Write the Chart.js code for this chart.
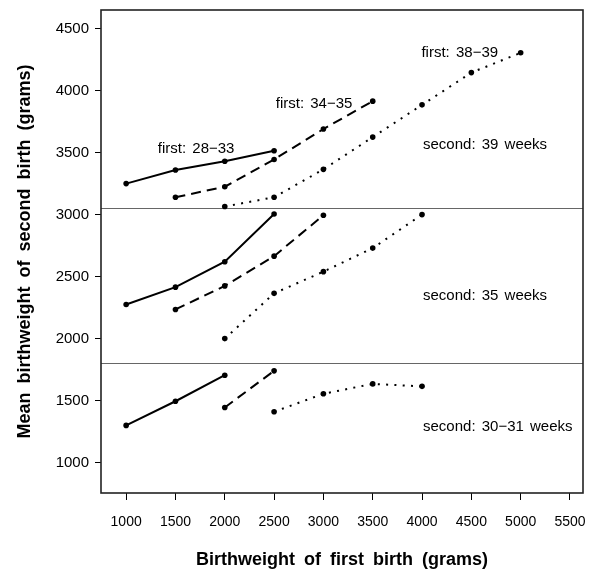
<!DOCTYPE html>
<html>
<head>
<meta charset="utf-8">
<script src="https://cdn.jsdelivr.net/npm/chart.js@4.4.1/dist/chart.umd.min.js"></script>
<style>
  html, body { margin: 0; padding: 0; background: #fff; }
  #wrap { width: 593px; height: 571px; position: relative; }
</style>
</head>
<body>
<div id="wrap"><canvas id="myChart"></canvas></div>
<script>
// axis ticks
const xTicks = [1000, 1500, 2000, 2500, 3000, 3500, 4000, 4500, 5000, 5500];
const yTicks = [1000, 1500, 2000, 2500, 3000, 3500, 4000, 4500];

// second birth at 39 weeks: birthweight of first birth (x) and mean of second (y)
const x39_2833 = [1000, 1500, 2000, 2500];
const y39_2833 = [3250, 3360, 3430, 3515];
const x39_3435 = [1500, 2000, 2500, 3000, 3500];
const y39_3435 = [3140, 3225, 3445, 3690, 3915];
const x39_3839 = [2000, 2500, 3000, 3500, 4000, 4500, 5000];
const y39_3839 = [3065, 3140, 3365, 3625, 3885, 4145, 4305];

// second birth at 35 weeks
const x35_2833 = [1000, 1500, 2000, 2500];
const y35_2833 = [2275, 2415, 2620, 3005];
const x35_3435 = [1500, 2000, 2500, 3000];
const y35_3435 = [2235, 2425, 2665, 2995];
const x35_3839 = [2000, 2500, 3000, 3500, 4000];
const y35_3839 = [2000, 2365, 2540, 2730, 3000];

// second birth at 30-31 weeks
const x30_2833 = [1000, 1500, 2000];
const y30_2833 = [1300, 1495, 1705];
const x30_3435 = [2000, 2500];
const y30_3435 = [1445, 1740];
const x30_3839 = [2500, 3000, 3500, 4000];
const y30_3839 = [1410, 1555, 1635, 1615];

// panel dividers (y values)
const panelBreaks = [3050, 1800];

// text labels
const groupNames = ['first: 28\u221233', 'first: 34\u221235', 'first: 38\u221239'];
const panelNames = ['second: 39 weeks', 'second: 35 weeks', 'second: 30\u221231 weeks'];
const groupAt = [[1321, 3533], [2517, 3897], [3994, 4307]];
const panelAt = [[4010, 3563], [4010, 2346], [4010, 1285]];

const FONT = '"Liberation Sans", Arial, Helvetica, sans-serif';
const solid = [], dashed = [10, 6], dotted = [2, 6.3];

function series(xs, ys, dash) {
    return {
        data: xs.map((x, i) => ({ x: x, y: ys[i] })),
        showLine: true,
        borderColor: '#000',
        backgroundColor: '#000',
        borderWidth: 2,
        borderDash: dash,
        pointRadius: 2.8,
        pointHoverRadius: 2.8,
        pointBorderWidth: 0,
        tension: 0
    };
}

const decor = {
    id: 'decor',
    beforeDatasetsDraw(chart) {
        const { ctx, chartArea: a, scales: { y } } = chart;
        ctx.save();
        ctx.strokeStyle = '#666';
        ctx.lineWidth = 1;
        panelBreaks.forEach(v => {
            const py = Math.round(y.getPixelForValue(v)) + 0.5;
            ctx.beginPath();
            ctx.moveTo(a.left, py);
            ctx.lineTo(a.right, py);
            ctx.stroke();
        });
        ctx.restore();
    },
    afterDraw(chart) {
        const { ctx, chartArea: a, scales: { x, y } } = chart;
        ctx.save();
        // box
        ctx.strokeStyle = '#222';
        ctx.lineWidth = 1.6;
        ctx.strokeRect(a.left, a.top, a.right - a.left, a.bottom - a.top);

        // y tick labels
        ctx.fillStyle = '#000';
        ctx.font = '15px ' + FONT;
        ctx.textAlign = 'right';
        ctx.textBaseline = 'middle';
        yTicks.forEach(v => ctx.fillText(String(v), 89, y.getPixelForValue(v)));

        // labels in the plot
        ctx.font = '15px ' + FONT;
        ctx.wordSpacing = '2px';
        ctx.textAlign = 'left';
        groupNames.forEach((t, i) => ctx.fillText(t, x.getPixelForValue(groupAt[i][0]), y.getPixelForValue(groupAt[i][1])));
        panelNames.forEach((t, i) => ctx.fillText(t, x.getPixelForValue(panelAt[i][0]), y.getPixelForValue(panelAt[i][1])));

        // axis titles
        ctx.font = 'bold 18px ' + FONT;
        ctx.wordSpacing = '4px';
        ctx.textAlign = 'center';
        ctx.textBaseline = 'alphabetic';
        ctx.fillText('Birthweight of first birth (grams)', (a.left + a.right) / 2, 565);
        ctx.translate(30, (a.top + a.bottom) / 2);
        ctx.rotate(-Math.PI / 2);
        ctx.fillText('Mean birthweight of second birth (grams)', 0, 0);
        ctx.restore();
    }
};

const ctx = document.getElementById('myChart').getContext('2d');
const myChart = new Chart(ctx, {
    type: 'scatter',
    data: {
        datasets: [
            series(x39_2833, y39_2833, solid),
            series(x39_3435, y39_3435, dashed),
            series(x39_3839, y39_3839, dotted),
            series(x35_2833, y35_2833, solid),
            series(x35_3435, y35_3435, dashed),
            series(x35_3839, y35_3839, dotted),
            series(x30_2833, y30_2833, solid),
            series(x30_3435, y30_3435, dashed),
            series(x30_3839, y30_3839, dotted)
        ]
    },
    options: {
        responsive: true,
        maintainAspectRatio: false,
        animation: false,
        layout: { padding: { top: 10, right: 10, left: 0, bottom: 0 } },
        plugins: { legend: { display: false }, tooltip: { enabled: false } },
        scales: {
            x: {
                type: 'linear',
                min: 745,
                max: 5632,
                afterBuildTicks: s => { s.ticks = xTicks.map(v => ({ value: v })); },
                afterFit: s => { s.height = 78; s.paddingLeft = 0; s.paddingRight = 0; },
                border: { display: false },
                grid: { drawOnChartArea: false, drawTicks: true, tickLength: 7, color: '#000', lineWidth: 1 },
                ticks: {
                    color: '#000',
                    font: { family: FONT, size: 14 },
                    padding: 14,
                    autoSkip: false,
                    maxRotation: 0,
                    callback: v => String(v)
                }
            },
            y: {
                type: 'linear',
                min: 755,
                max: 4650,
                afterBuildTicks: s => { s.ticks = yTicks.map(v => ({ value: v })); },
                afterFit: s => { s.width = 101; s.paddingTop = 0; s.paddingBottom = 0; },
                border: { display: false },
                grid: { drawOnChartArea: false, drawTicks: true, tickLength: 6, color: '#000', lineWidth: 1 },
                ticks: { display: false }
            }
        }
    },
    plugins: [decor]
});
</script>
</body>
</html>
